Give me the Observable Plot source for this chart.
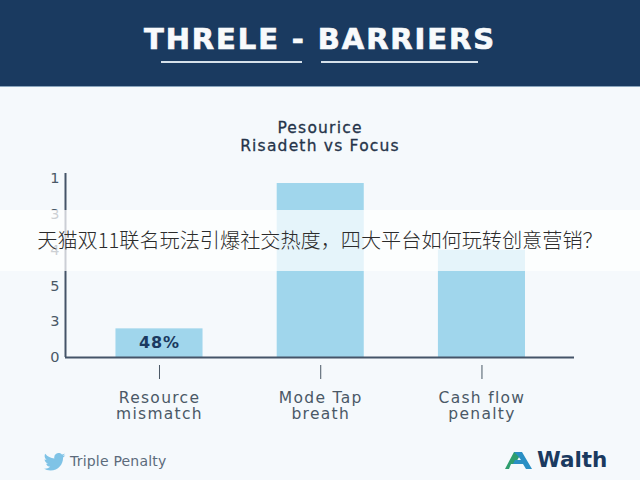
<!DOCTYPE html>
<html>
<head>
<meta charset="utf-8">
<script src="https://cdn.jsdelivr.net/npm/d3@7"></script>
<script src="https://cdn.jsdelivr.net/npm/@observablehq/plot@0.6"></script>
<style>
html,body{margin:0;padding:0;width:640px;height:480px;overflow:hidden;background:#f5f9fc;font-family:"DejaVu Sans",sans-serif}
.abs{position:absolute;white-space:nowrap}
#header{left:0;top:0;width:640px;height:87px;background:#1a3a60;border-bottom:1px solid #8aa5bd;box-sizing:border-box}
#title{left:0;width:640px;top:22px;text-align:center;color:#f8fafc;font-size:29px;line-height:34px;font-weight:700;letter-spacing:1.9px;-webkit-text-stroke:.7px #f8fafc}
.ul{top:61px;height:2px;background:#d5e0ea}
#subtitle{left:0;width:640px;top:120px;text-align:center;color:#25344a;font-size:15.5px;line-height:17.5px;font-weight:400;letter-spacing:1.2px;-webkit-text-stroke:.3px #25344a}
#chart{left:0;top:160px}
#chart g[aria-label="x-axis tick label"]{letter-spacing:1.3px}
#chart g[aria-label="text"]{letter-spacing:.9px}
#banner{left:0;top:210px;width:640px;height:61px;background:rgba(255,255,255,.72)}
#bannerText{left:0;width:640px;top:225px;text-align:center;font-family:"Noto Sans CJK SC",sans-serif;font-size:20.15px;line-height:30px;color:#2b2b2b;font-weight:300}
#foot{left:70px;top:453px;font-size:14px;line-height:16px;letter-spacing:.2px;color:#5c6b7b}
#brand{left:537px;top:446px;font-size:21.5px;line-height:28px;font-weight:700;color:#1a3a60}
</style>
</head>
<body>
<div class="abs" id="header"></div>
<div class="abs" id="title"></div>
<div class="abs ul" style="left:161px;width:141px"></div>
<div class="abs ul" style="left:321px;width:157px"></div>
<div class="abs" id="subtitle"></div>
<div class="abs" id="chart"></div>
<div class="abs" id="banner"></div>
<div class="abs" id="bannerText"></div>
<svg class="abs" style="left:43px;top:453px" width="23" height="18" viewBox="0 0 24 20"><path fill="#7fc3e6" d="M24 2.4c-.9.4-1.8.6-2.8.8 1-.6 1.800-1.600 2.200-2.700-1 .6-2 1-3.100 1.200A4.900 4.900 0 0 0 11.900 6.200C7.800 6 4.200 4 1.700.9c-1.300 2.200-.7 5.100 1.500 6.600-.8 0-1.600-.2-2.200-.6 0 2.400 1.700 4.400 3.900 4.900-.7.200-1.500.2-2.200.1.600 2 2.400 3.400 4.600 3.400A9.900 9.900 0 0 1 0 17.300 14 14 0 0 0 7.500 19.500c9.100 0 14.300-7.700 14-14.600 1-.7 1.800-1.600 2.500-2.500z"/></svg>
<div class="abs" id="foot"></div>
<svg class="abs" style="left:505px;top:451px" width="27" height="19" viewBox="0 0 27 19"><path fill="#2f9e6e" d="M9 1h8L10 13H6L4 18H0z"/><path fill="#2a8fc4" d="M9 1h8l10 17h-6l-3-5H8l2-4h6l-3-4z"/></svg>
<div class="abs" id="brand"></div>
<script>
const titleText = "THRELE - BARRIERS";
const subtitleLines = ["Pesourice", "Risadeth vs Focus"];
const bannerLine = "天猫双11联名玩法引爆社交热度，四大平台如何玩转创意营销？";
const footerLabel = "Triple Penalty";
const brandLabel = "Walth";

const categories = ["Resource\nmismatch", "Mode Tap\nbreath", "Cash flow\npenalty"];
const barValues = [0.8, 4.86, 3.0];
const barLabels = ["48%", "", ""];
const yTickPositions = [0, 1, 2, 3, 4, 5];
const yTickLabels = ["0", "3", "5", "4", "3", "1"];

document.getElementById("title").textContent = titleText;
document.getElementById("subtitle").innerHTML = subtitleLines.join("<br>");
document.getElementById("bannerText").textContent = bannerLine;
document.getElementById("foot").textContent = footerLabel;
document.getElementById("brand").textContent = brandLabel;

const rows = categories.map((c, i) => ({i, c, v: barValues[i], label: barLabels[i]}));
const halfBar = 0.27;
const axisColor = "#445468";

const plot = Plot.plot({
  width: 640, height: 270,
  marginLeft: 65, marginRight: 66, marginTop: 13, marginBottom: 65,
  style: {background: "transparent", fontFamily: "'DejaVu Sans', sans-serif"},
  x: {domain: [-0.583, 2.574]},
  y: {domain: [-0.224, 5.14]},
  marks: [
    Plot.rectY(rows, {x1: d => d.i - halfBar, x2: d => d.i + halfBar, y1: 0, y2: "v", fill: "#a0d6ec"}),
    Plot.ruleY([0], {stroke: axisColor, strokeWidth: 2}),
    Plot.ruleX([-0.583], {y1: 0, y2: 5.14, stroke: axisColor, strokeWidth: 2}),
    Plot.text(rows.filter(d => d.label), {x: "i", y: d => d.v / 2, text: "label", fontSize: 16, fontWeight: 700, fill: "#1a3a60"}),
    Plot.axisY({ticks: yTickPositions, tickFormat: d => yTickLabels[d], tickSize: 0, tickPadding: 6, fontSize: 14.5, color: "#4a5866", label: null}),
    Plot.axisX({ticks: [0, 1, 2], tickFormat: d => categories[d], tickSize: 14, tickPadding: 12, fontSize: 15.5, color: "#4a5866", stroke: "#4a5866", label: null, lineHeight: 1.04})
  ]
});
document.getElementById("chart").appendChild(plot);
</script>
</body>
</html>
